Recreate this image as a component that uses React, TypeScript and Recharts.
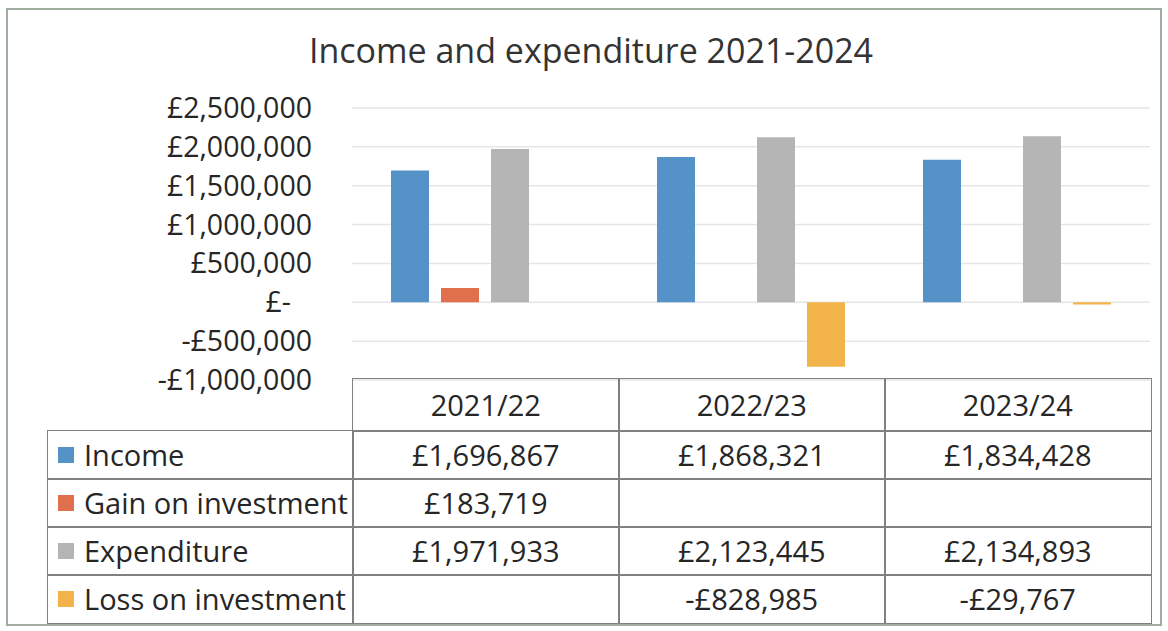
import { BarChart, Bar, XAxis, YAxis, CartesianGrid } from 'recharts';

const categories = ['2021/22', '2022/23', '2023/24'];
const income = [1696867, 1868321, 1834428];
const gainOnInvestment = [183719, null, null];
const expenditure = [1971933, 2123445, 2134893];
const lossOnInvestment = [null, -828985, -29767];
const yTicks = [-1000000, -500000, 0, 500000, 1000000, 1500000, 2000000, 2500000];

const series = [
  { key: 'income', name: 'Income', values: income },
  { key: 'gain', name: 'Gain on investment', values: gainOnInvestment },
  { key: 'expenditure', name: 'Expenditure', values: expenditure },
  { key: 'loss', name: 'Loss on investment', values: lossOnInvestment },
];

const COLORS: Record<string, string> = {
  income: '#5592c8',
  gain: '#e0704c',
  expenditure: '#b5b5b5',
  loss: '#f2b44a',
};

const FONT = '"Open Sans", sans-serif';
const TEXT = '#262626';
const BORDER = '#808080';

// plot area geometry (page pixels)
const PLOT_LEFT = 352;
const PLOT_RIGHT = 1150;
const PLOT_TOP = 108;
const PLOT_BOTTOM = 380;
const COL_W = (PLOT_RIGHT - PLOT_LEFT) / categories.length;
const LABEL_LEFT = 47;
const HEADER_TOP = 378;
const HEADER_H = 52;
const ROW_H = 48;

const data = categories.map((category, i) => {
  const row: Record<string, string | number | null> = { category };
  series.forEach((s) => {
    row[s.key] = s.values[i];
  });
  return row;
});

function money(v: number | null) {
  if (v === null || v === undefined) return '';
  if (v === 0) return '£-';
  const s = '£' + Math.abs(v).toLocaleString('en-GB');
  return v < 0 ? '-' + s : s;
}

function YTick(props: any) {
  const { x, y, payload } = props;
  const v = payload.value as number;
  return (
    <text
      x={v === 0 ? x - 21 : x}
      y={y}
      dy="0.35em"
      textAnchor="end"
      fill={TEXT}
      fontFamily={FONT}
      fontSize={28.5}
    >
      {money(v)}
    </text>
  );
}

const cellText: React.CSSProperties = {
  position: 'absolute',
  display: 'flex',
  alignItems: 'center',
  justifyContent: 'center',
  fontFamily: FONT,
  fontSize: 29,
  color: TEXT,
  boxSizing: 'border-box',
};

export default function App() {
  return (
    <div
      style={{
        position: 'absolute',
        left: 0,
        top: 0,
        width: 1168,
        height: 631,
        background: '#fff',
        overflow: 'hidden',
      }}
    >
      {/* outer chart border */}
      <div
        style={{
          position: 'absolute',
          left: 6,
          top: 8,
          width: 1156,
          height: 618,
          border: '2px solid #9fae9f',
          boxSizing: 'border-box',
        }}
      />

      {/* title */}
      <div
        style={{
          position: 'absolute',
          left: 291,
          top: 28,
          width: 600,
          textAlign: 'center',
          fontFamily: FONT,
          fontSize: 34,
          color: '#333',
          lineHeight: '44px',
        }}
      >
        Income and expenditure 2021-2024
      </div>

      <div style={{ position: 'absolute', left: 0, top: 0 }}>
        <BarChart
          width={1168}
          height={631}
          data={data}
          margin={{ top: PLOT_TOP, bottom: 631 - PLOT_BOTTOM, left: 0, right: 1168 - PLOT_RIGHT }}
          barCategoryGap={39}
          barGap={12}
        >
          <CartesianGrid vertical={false} stroke="#e6e6e6" strokeWidth={1.5} />
          <XAxis dataKey="category" hide />
          <YAxis
            width={PLOT_LEFT}
            domain={[-1000000, 2500000]}
            ticks={yTicks}
            interval={0}
            axisLine={false}
            tickLine={false}
            tickSize={0}
            tickMargin={40}
            tick={<YTick />}
          />
          {series.map((s) => (
            <Bar key={s.key} dataKey={s.key} name={s.name} fill={COLORS[s.key]} isAnimationActive={false} />
          ))}
        </BarChart>
      </div>

      {/* data table: header row */}
      {categories.map((c, i) => (
        <div
          key={c}
          style={{
            ...cellText,
            left: PLOT_LEFT + i * COL_W,
            top: HEADER_TOP,
            width: COL_W + 1.5,
            height: HEADER_H + 1.5,
            border: `1.5px solid ${BORDER}`,
          }}
        >
          {c}
        </div>
      ))}

      {/* data table: series rows */}
      {series.map((s, r) => (
        <div key={s.key}>
          <div
            style={{
              ...cellText,
              justifyContent: 'flex-start',
              left: LABEL_LEFT,
              top: HEADER_TOP + HEADER_H + r * ROW_H,
              width: PLOT_LEFT - LABEL_LEFT + 1.5,
              height: ROW_H + 1.5,
              border: `1.5px solid ${BORDER}`,
              paddingLeft: 10,
            }}
          >
            <span
              style={{
                display: 'inline-block',
                width: 16,
                height: 16,
                background: COLORS[s.key],
                marginRight: 10,
              }}
            />
            {s.name}
          </div>
          {s.values.map((v, i) => (
            <div
              key={i}
              style={{
                ...cellText,
                left: PLOT_LEFT + i * COL_W,
                top: HEADER_TOP + HEADER_H + r * ROW_H,
                width: COL_W + 1.5,
                height: ROW_H + 1.5,
                border: `1.5px solid ${BORDER}`,
              }}
            >
              {money(v)}
            </div>
          ))}
        </div>
      ))}
    </div>
  );
}
